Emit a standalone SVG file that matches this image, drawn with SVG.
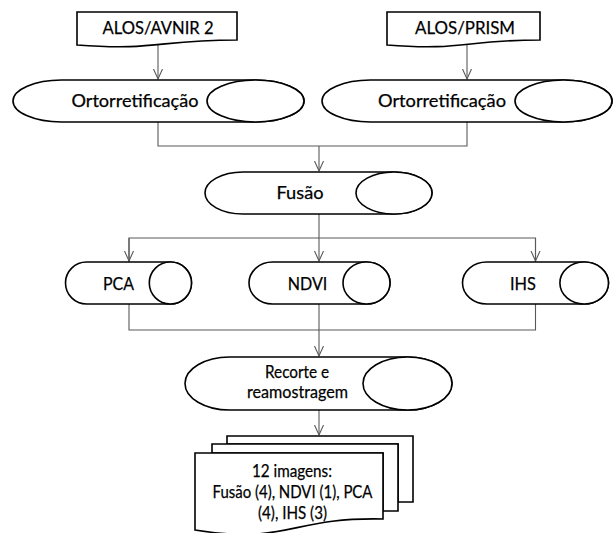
<svg xmlns="http://www.w3.org/2000/svg" width="614" height="533" viewBox="0 0 614 533">
<defs>
<style>
.s{fill:#fff;stroke:#000;stroke-width:1.6}
.c{fill:none;stroke:#595959;stroke-width:1.1}
text{font-family:Lato,"Open Sans",sans-serif;font-size:18px;fill:#000;stroke:#000;stroke-width:0.25;text-anchor:middle}
</style>
<marker id="a" markerUnits="userSpaceOnUse" markerWidth="12" markerHeight="12" refX="10" refY="5" orient="auto" viewBox="0 0 12 10">
<path d="M0,0.5 L10,5 L0,9.5" fill="none" stroke="#595959" stroke-width="1.1"/>
</marker>
</defs>
<rect width="614" height="533" fill="#fff"/>
<g id="connectors">
<path class="c" d="M158,43 V79" marker-end="url(#a)"/>
<path class="c" d="M467,40 V79" marker-end="url(#a)"/>
<path class="c" d="M158,122 V146 H467 V122"/>
<path class="c" d="M319,146 V171" marker-end="url(#a)"/>
<path class="c" d="M319,214 V238 M129,262 V238 H535.5 V262"/>
<path class="c" d="M129,238 V261" marker-end="url(#a)"/>
<path class="c" d="M319,238 V261" marker-end="url(#a)"/>
<path class="c" d="M535.5,238 V261" marker-end="url(#a)"/>
<path class="c" d="M129,304 V330 H535.5 V304 M319,304 V330"/>
<path class="c" d="M319,330 V356" marker-end="url(#a)"/>
<path class="c" d="M319,410 V435" marker-end="url(#a)"/>
</g>
<g id="alos-avnir">
<path class="s" d="M77,12 H237 V40 C157,40 157,51 77,45 Z"/>
<text x="158" y="34" textLength="111" lengthAdjust="spacingAndGlyphs">ALOS/AVNIR 2</text>
</g>
<g id="alos-prism">
<path class="s" d="M387,12 H540 V40 C463,40 463,51 387,45 Z"/>
<text x="465" y="34" textLength="100" lengthAdjust="spacingAndGlyphs">ALOS/PRISM</text>
</g>
<g id="orto1">
<path class="s" d="M61.5,80 H255.5 A48.5,21 0 0 1 255.5,122 H61.5 A48.5,21 0 0 1 61.5,80 Z"/>
<ellipse class="s" cx="255.5" cy="101" rx="48.5" ry="21"/>
<text x="135" y="107" textLength="127" lengthAdjust="spacingAndGlyphs">Ortorretificação</text>
</g>
<g id="orto2">
<path class="s" d="M370.5,80 H563.5 A48.5,21 0 0 1 563.5,122 H370.5 A48.5,21 0 0 1 370.5,80 Z"/>
<ellipse class="s" cx="563.5" cy="101" rx="48.5" ry="21"/>
<text x="442" y="107" textLength="128" lengthAdjust="spacingAndGlyphs">Ortorretificação</text>
</g>
<g id="fusao">
<path class="s" d="M243,172 H394 A38,21 0 0 1 394,214 H243 A38,21 0 0 1 243,172 Z"/>
<ellipse class="s" cx="394" cy="193" rx="38" ry="21"/>
<text x="300" y="199" textLength="47" lengthAdjust="spacingAndGlyphs">Fusão</text>
</g>
<g id="pca">
<path class="s" d="M86.6,262 H170.4 A21.1,21 0 0 1 170.4,304 H86.6 A21.1,21 0 0 1 86.6,262 Z"/>
<ellipse class="s" cx="170.4" cy="283" rx="21.1" ry="21"/>
<text x="118.5" y="290" textLength="31" lengthAdjust="spacingAndGlyphs">PCA</text>
</g>
<g id="ndvi">
<path class="s" d="M272.5,262 H366.5 A23.5,21 0 0 1 366.5,304 H272.5 A23.5,21 0 0 1 272.5,262 Z"/>
<ellipse class="s" cx="366.5" cy="283" rx="23.5" ry="21"/>
<text x="307.5" y="290" textLength="39.5" lengthAdjust="spacingAndGlyphs">NDVI</text>
</g>
<g id="ihs">
<path class="s" d="M486.8,262 H584.2 A24.3,21 0 0 1 584.2,304 H486.8 A24.3,21 0 0 1 486.8,262 Z"/>
<ellipse class="s" cx="584.2" cy="283" rx="24.3" ry="21"/>
<text x="523" y="290" textLength="26" lengthAdjust="spacingAndGlyphs">IHS</text>
</g>
<g id="recorte">
<path class="s" d="M229.5,357 H407.5 A44.5,26.5 0 0 1 407.5,410 H229.5 A44.5,26.5 0 0 1 229.5,357 Z"/>
<ellipse class="s" cx="407.5" cy="383.5" rx="44.5" ry="26.5"/>
<text x="297" y="378" textLength="64" lengthAdjust="spacingAndGlyphs">Recorte e</text>
<text x="297.5" y="398" textLength="101" lengthAdjust="spacingAndGlyphs">reamostragem</text>
</g>
<g id="imagens">
<path class="s" d="M227,444 V436 H413 V502 H398 V444 Z"/>
<path class="s" d="M212,453 V444 H398 V511 H383 V453 Z"/>
<path class="s" d="M195,453 H383 V519 C289,517 289,545 195,530 Z"/>
<text x="292" y="477" textLength="80" lengthAdjust="spacingAndGlyphs">12 imagens:</text>
<text x="292.5" y="498" textLength="160" lengthAdjust="spacingAndGlyphs">Fusão (4), NDVI (1), PCA</text>
<text x="292.5" y="519" textLength="69" lengthAdjust="spacingAndGlyphs">(4), IHS (3)</text>
</g>
</svg>
